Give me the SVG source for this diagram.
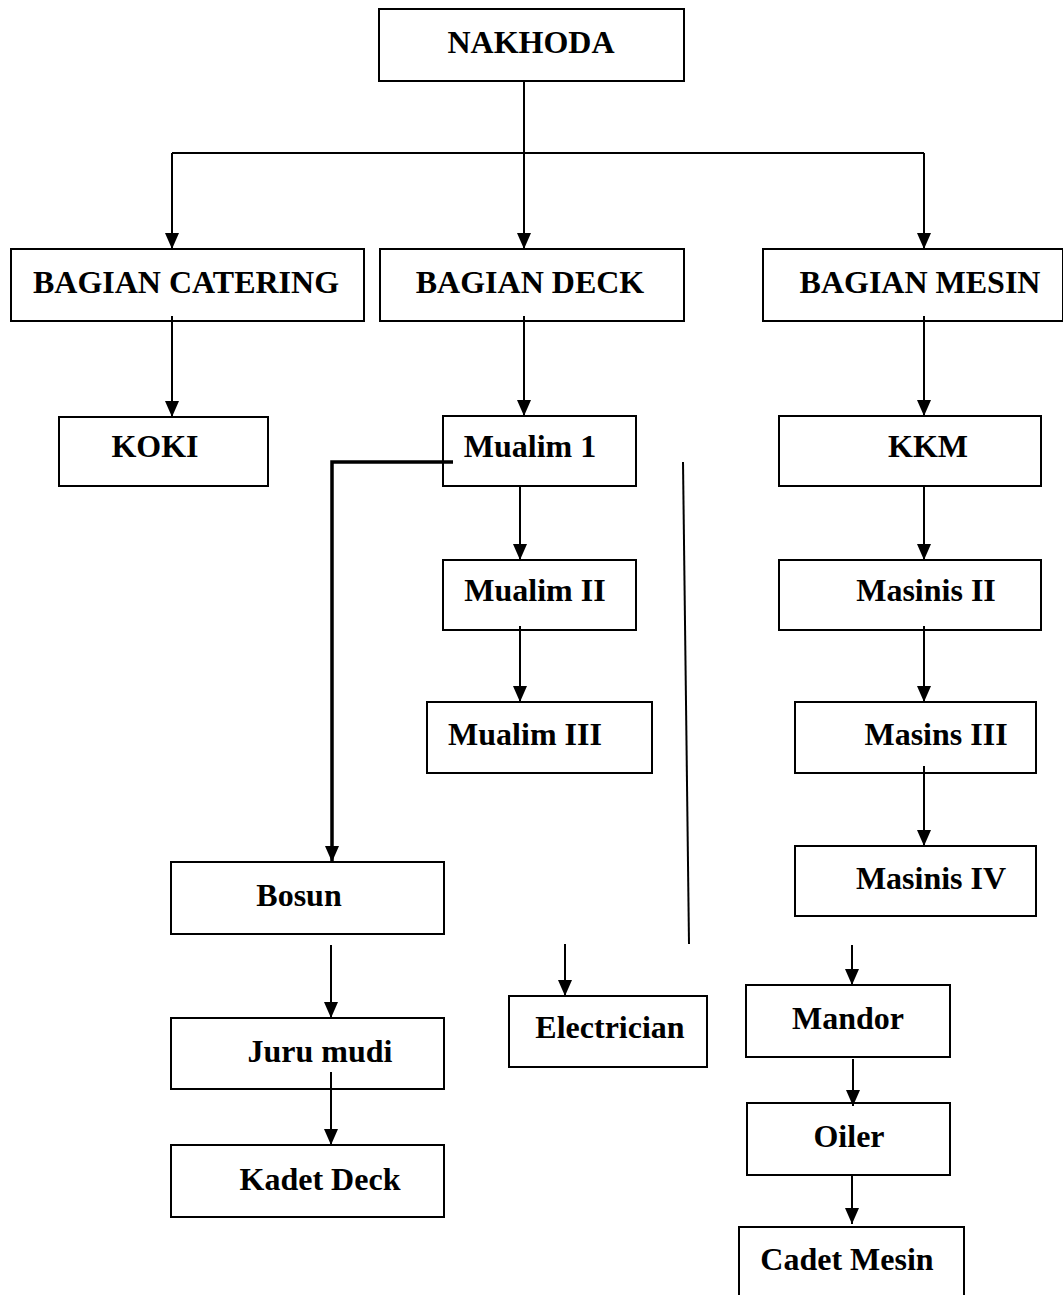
<svg xmlns="http://www.w3.org/2000/svg" width="1063" height="1295" viewBox="0 0 1063 1295">
<style>
.box{fill:#fff;stroke:#000;stroke-width:2}
.t{font-family:"Liberation Serif","Times New Roman",serif;font-weight:bold;font-size:32px;fill:#000;text-anchor:middle}
.c{fill:none;stroke:#000;stroke-width:2}
.a{fill:none;stroke:#000;stroke-width:2;marker-end:url(#arr)}
</style>
<defs>
<marker id="arr" viewBox="0 0 16 14" refX="16" refY="7" markerWidth="16" markerHeight="15" markerUnits="userSpaceOnUse" orient="auto">
<path d="M0,0 L16,7 L0,14 Z" fill="#000"/>
</marker>
</defs>
<rect width="1063" height="1295" fill="#fff"/>
<g id="nakhoda"><rect class="box" x="379" y="9" width="305" height="72"/><text class="t" x="531" y="53">NAKHODA</text></g>
<g id="bagian-catering"><rect class="box" x="11" y="249" width="353" height="72"/><text class="t" x="186" y="293">BAGIAN CATERING</text></g>
<g id="bagian-deck"><rect class="box" x="380" y="249" width="304" height="72"/><text class="t" x="530" y="293">BAGIAN DECK</text></g>
<g id="bagian-mesin"><rect class="box" x="763" y="249" width="300" height="72"/><text class="t" x="920" y="293">BAGIAN MESIN</text></g>
<g id="koki"><rect class="box" x="59" y="417" width="209" height="69"/><text class="t" x="155" y="457">KOKI</text></g>
<g id="mualim1"><rect class="box" x="443" y="416" width="193" height="70"/><text class="t" x="530" y="457">Mualim 1</text></g>
<g id="kkm"><rect class="box" x="779" y="416" width="262" height="70"/><text class="t" x="928" y="457">KKM</text></g>
<g id="mualim2"><rect class="box" x="443" y="560" width="193" height="70"/><text class="t" x="535" y="601">Mualim II</text></g>
<g id="masinis2"><rect class="box" x="779" y="560" width="262" height="70"/><text class="t" x="926" y="601">Masinis II</text></g>
<g id="mualim3"><rect class="box" x="427" y="702" width="225" height="71"/><text class="t" x="525" y="745">Mualim III</text></g>
<g id="masins3"><rect class="box" x="795" y="702" width="241" height="71"/><text class="t" x="936" y="745">Masins III</text></g>
<g id="masinis4"><rect class="box" x="795" y="846" width="241" height="70"/><text class="t" x="931" y="889">Masinis IV</text></g>
<g id="bosun"><rect class="box" x="171" y="862" width="273" height="72"/><text class="t" x="299" y="906">Bosun</text></g>
<g id="juru-mudi"><rect class="box" x="171" y="1018" width="273" height="71"/><text class="t" x="320" y="1062">Juru mudi</text></g>
<g id="kadet-deck"><rect class="box" x="171" y="1145" width="273" height="72"/><text class="t" x="320" y="1190">Kadet Deck</text></g>
<g id="electrician"><rect class="box" x="509" y="996" width="198" height="71"/><text class="t" x="610" y="1038">Electrician</text></g>
<g id="mandor"><rect class="box" x="746" y="985" width="204" height="72"/><text class="t" x="848" y="1029">Mandor</text></g>
<g id="oiler"><rect class="box" x="747" y="1103" width="203" height="72"/><text class="t" x="849" y="1147">Oiler</text></g>
<g id="cadet-mesin"><rect class="box" x="739" y="1227" width="225" height="80"/><text class="t" x="847" y="1270">Cadet Mesin</text></g>
<g id="connectors">
<line class="c" x1="172" y1="153" x2="924" y2="153"/>
<line class="a" x1="524" y1="81" x2="524" y2="249"/>
<line class="a" x1="172" y1="153" x2="172" y2="249"/>
<line class="a" x1="924" y1="153" x2="924" y2="249"/>
<line class="a" x1="172" y1="316" x2="172" y2="417"/>
<line class="a" x1="524" y1="316" x2="524" y2="416"/>
<line class="a" x1="924" y1="316" x2="924" y2="416"/>
<line class="a" x1="520" y1="486" x2="520" y2="560"/>
<line class="a" x1="520" y1="626" x2="520" y2="702"/>
<line class="a" x1="924" y1="486" x2="924" y2="560"/>
<line class="a" x1="924" y1="626" x2="924" y2="702"/>
<line class="a" x1="924" y1="766" x2="924" y2="846"/>
<path d="M453,462 H332 V862" fill="none" stroke="#000" stroke-width="3.5" marker-end="url(#arr)"/>
<line class="c" x1="683" y1="462" x2="689" y2="944" stroke-width="1.5"/>
<line class="a" x1="331" y1="945" x2="331" y2="1018"/>
<line class="a" x1="331" y1="1072" x2="331" y2="1145"/>
<line class="a" x1="565" y1="944" x2="565" y2="996"/>
<line class="a" x1="852" y1="945" x2="852" y2="985"/>
<line class="a" x1="853" y1="1059" x2="853" y2="1106"/>
<line class="a" x1="852" y1="1175" x2="852" y2="1224"/>
</g>
</svg>
